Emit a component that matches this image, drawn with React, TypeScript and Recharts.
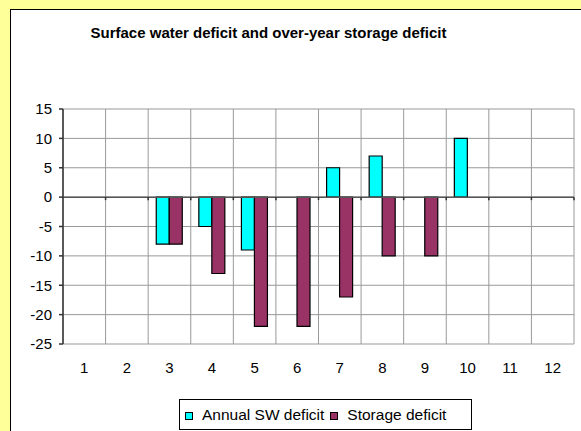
import { BarChart, Bar, XAxis, YAxis, CartesianGrid, ReferenceLine } from "recharts";

const categories = ["1", "2", "3", "4", "5", "6", "7", "8", "9", "10", "11", "12"];
const annualSwDeficit = [null, null, -8, -5, -9, null, 5, 7, null, 10, null, null];
const storageDeficit = [null, null, -8, -13, -22, -22, -17, -10, -10, null, null, null];
const yTicks = [-25, -20, -15, -10, -5, 0, 5, 10, 15];

const series = [
  { key: "annual", name: "Annual SW deficit", color: "#00FFFF" },
  { key: "storage", name: "Storage deficit", color: "#993366" },
];

const data = categories.map((cat, i) => ({
  cat,
  annual: annualSwDeficit[i],
  storage: storageDeficit[i],
}));

const FONT = "'Liberation Sans', Arial, sans-serif";

// zero line with small tick marks at each category boundary
function ZeroLine(props: any) {
  const { x1, x2, y1 } = props;
  const step = (x2 - x1) / categories.length;
  return (
    <g>
      <line x1={x1} x2={x2} y1={y1} y2={y1} stroke="#555" strokeWidth={1.5} />
      {categories.map((_, i) => (
        <line
          key={i}
          x1={x1 + (i + 1) * step}
          x2={x1 + (i + 1) * step}
          y1={y1}
          y2={y1 + 3}
          stroke="#333"
          strokeWidth={1.5}
        />
      ))}
    </g>
  );
}

export default function App() {
  return (
    <div
      style={{
        position: "fixed",
        left: 0,
        top: 0,
        width: 581,
        height: 431,
        background: "#FFFF99",
        overflow: "hidden",
        fontFamily: FONT,
      }}
    >
      <div
        style={{
          position: "absolute",
          left: 10,
          top: 9,
          width: 700,
          height: 500,
          background: "#fff",
          border: "1px solid #000",
        }}
      />
      <div
        style={{
          position: "absolute",
          left: 0,
          top: 25,
          width: 537,
          textAlign: "center",
          fontSize: 15,
          lineHeight: "15px",
          fontWeight: "bold",
          color: "#000",
        }}
      >
        Surface water deficit and over-year storage deficit
      </div>
      <div style={{ position: "absolute", left: 0, top: 0 }}>
        <BarChart
          width={581}
          height={431}
          data={data}
          margin={{ top: 109, right: 7, bottom: 57, left: 0 }}
          barCategoryGap="19%"
          barGap={0}
        >
          <CartesianGrid
            stroke="#999"
            verticalCoordinatesGenerator={({ offset }: any) =>
              Array.from({ length: categories.length + 1 }, (_, i) => offset.left + (i * offset.width) / categories.length)
            }
          />
          <XAxis
            dataKey="cat"
            axisLine={false}
            tickLine={false}
            tickSize={0}
            tickMargin={18}
            height={30}
            interval={0}
            tick={{ fill: "#000", fontSize: 15, fontFamily: FONT }}
          />
          <YAxis
            domain={[-25, 15]}
            ticks={yTicks}
            interval={0}
            width={63}
            tickSize={4}
            tickMargin={7}
            axisLine={{ stroke: "#333", strokeWidth: 1.5 }}
            tickLine={{ stroke: "#333", strokeWidth: 1.5 }}
            tick={{ fill: "#000", fontSize: 15, fontFamily: FONT }}
          />
          <ReferenceLine y={0} shape={ZeroLine} />
          {series.map((s) => (
            <Bar
              key={s.key}
              dataKey={s.key}
              name={s.name}
              fill={s.color}
              stroke="#000"
              strokeWidth={1.2}
              isAnimationActive={false}
            />
          ))}
        </BarChart>
      </div>
      <div
        style={{
          position: "absolute",
          left: 179,
          top: 399,
          width: 286,
          height: 29,
          background: "#fff",
          border: "1px solid #000",
          display: "flex",
          alignItems: "center",
          paddingLeft: 5,
          boxSizing: "content-box",
          fontSize: 15.5,
          color: "#000",
        }}
      >
        {series.map((s) => (
          <div key={s.key} style={{ display: "flex", alignItems: "center", marginRight: 6 }}>
            <span
              style={{
                display: "inline-block",
                width: 6,
                height: 6,
                background: s.color,
                border: "1px solid #000",
                marginRight: 9,
                marginTop: 3,
              }}
            />
            <span>{s.name}</span>
          </div>
        ))}
      </div>
    </div>
  );
}
